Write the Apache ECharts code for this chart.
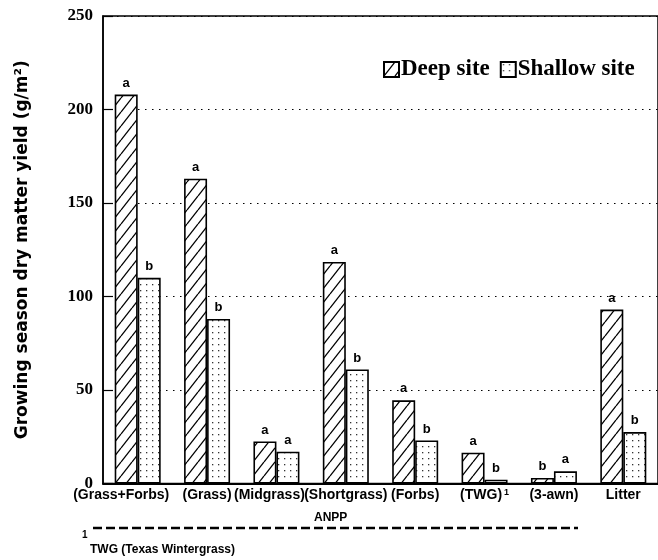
<!DOCTYPE html>
<html>
<head>
<meta charset="utf-8">
<script src="https://cdn.jsdelivr.net/npm/echarts@6/dist/echarts.min.js"></script>
<style>
html,body{margin:0;padding:0;background:#fff;}
#chart{width:658px;height:560px;}
</style>
</head>
<body>
<div id="chart"></div>
<script>
// ---- data ----
var categories = ['(Grass+Forbs)', '(Grass)', '(Midgrass)', '(Shortgrass)', '(Forbs)', '(TWG)', '(3-awn)', 'Litter'];
var deepSite = [208, 163, 22.5, 118.5, 44.5, 16.5, 3, 93];
var shallowSite = [110, 88, 17, 61, 23, 2, 6.5, 27.5];
var deepLetters = ['a', 'a', 'a', 'a', 'a', 'a', 'b', 'a'];
var shallowLetters = ['b', 'b', 'a', 'b', 'b', 'b', 'a', 'b'];
var yTicks = [0, 50, 100, 150, 200, 250];
var seriesNames = ['Deep site', 'Shallow site'];

// ---- patterns ----
function hatchPattern() {
  var w = 11, h = 14;
  var c = document.createElement('canvas');
  c.width = w; c.height = h;
  var ctx = c.getContext('2d');
  ctx.fillStyle = '#fff';
  ctx.fillRect(0, 0, w, h);
  ctx.strokeStyle = '#000';
  ctx.lineWidth = 1.3;
  for (var k = -1; k <= 1; k++) {
    ctx.beginPath();
    ctx.moveTo(k * w, h);
    ctx.lineTo(k * w + w, 0);
    ctx.stroke();
  }
  return c;
}
function dotPattern() {
  var s = 6;
  var c = document.createElement('canvas');
  c.width = s; c.height = s;
  var ctx = c.getContext('2d');
  ctx.fillStyle = '#fff';
  ctx.fillRect(0, 0, s, s);
  ctx.fillStyle = '#333';
  ctx.fillRect(2, 2, 1.3, 1.3);
  return c;
}

var chart = echarts.init(document.getElementById('chart'), null, {renderer: 'canvas'});

var SANS = 'Liberation Sans, Arial, sans-serif';
var SERIF = 'Liberation Serif, Times New Roman, serif';

var letterLabel = function (letters) {
  return {
    show: true,
    position: 'top',
    distance: 5,
    fontFamily: SANS,
    fontWeight: 'bold',
    fontSize: 13,
    color: '#000',
    formatter: function (p) { return letters[p.dataIndex]; }
  };
};

function richStyle(extra) {
  var s = {fontFamily: SANS, fontWeight: 'bold', fontSize: 14, color: '#000'};
  for (var k in extra) s[k] = extra[k];
  return s;
}

var option = {
  backgroundColor: '#fff',
  animation: false,
  grid: {
    left: 103, top: 16, width: 555, bottom: 76.5,
    show: true, borderColor: '#000', borderWidth: 1.5, backgroundColor: 'transparent'
  },
  legend: {
    data: seriesNames,
    left: 378, top: 53,
    itemWidth: 15, itemHeight: 15, itemGap: 10,
    icon: 'rect',
    textStyle: {fontFamily: SERIF, fontWeight: 'bold', fontSize: 23, color: '#000', padding: [0, 0, 0, -3]}
  },
  xAxis: {
    type: 'category',
    data: categories,
    axisLine: {lineStyle: {color: '#000', width: 2}},
    axisTick: {show: false},
    axisLabel: {
      interval: 0,
      margin: 5,
      color: '#000',
      fontFamily: SANS,
      fontWeight: 'bold',
      fontSize: 14,
      formatter: function (v, i) {
        if (i === 0) return '{g|' + v + '}';
        if (i === 2) return '{m|' + v + '}';
        if (v === '(TWG)') return '{n|' + v + '}{sup|1}';
        return v;
      },
      rich: {
        g: richStyle({padding: [0, 33, 0, 0]}),
        m: richStyle({padding: [0, 14, 0, 0]}),
        n: richStyle({}),
        sup: richStyle({fontSize: 9, verticalAlign: 'top', padding: [0, 0, 0, 2]})
      }
    }
  },
  yAxis: {
    type: 'value',
    min: yTicks[0], max: yTicks[yTicks.length - 1], interval: 50,
    name: 'Growing season dry matter yield (g/m²)',
    nameLocation: 'middle',
    nameGap: 72,
    nameTextStyle: {fontFamily: 'DejaVu Sans, Arial, sans-serif', fontWeight: 'bold', fontSize: 17, color: '#000'},
    axisLine: {show: true, lineStyle: {color: '#000', width: 1.5}},
    axisTick: {show: true, inside: true, length: 10, lineStyle: {color: '#000', width: 1.2}},
    axisLabel: {margin: 10, color: '#000', fontFamily: SERIF, fontWeight: 'bold', fontSize: 17},
    splitLine: {show: true, lineStyle: {color: '#000', width: 1.2, type: [1.5, 5.5]}}
  },
  series: [
    {
      name: seriesNames[0],
      type: 'bar',
      data: deepSite,
      barWidth: 23,
      barGap: '0%',
      itemStyle: {color: {image: hatchPattern(), repeat: 'repeat'}, borderColor: '#000', borderWidth: 1.6},
      label: letterLabel(deepLetters),
      emphasis: {disabled: true}
    },
    {
      name: seriesNames[1],
      type: 'bar',
      data: shallowSite,
      barWidth: 23,
      barGap: '0%',
      itemStyle: {color: {image: dotPattern(), repeat: 'repeat'}, borderColor: '#000', borderWidth: 1.6},
      label: letterLabel(shallowLetters),
      emphasis: {disabled: true}
    }
  ],
  graphic: [
    {type: 'text', left: 314, top: 512, style: {text: 'ANPP', fontFamily: SANS, fontWeight: 'bold', fontSize: 12, fill: '#000'}},
    {type: 'line', shape: {x1: 93, y1: 528, x2: 578, y2: 528}, style: {stroke: '#000', lineWidth: 2.5, lineDash: [9, 4]}},
    {type: 'text', left: 82, top: 530, style: {text: '1', fontFamily: SANS, fontWeight: 'bold', fontSize: 10, fill: '#000'}},
    {type: 'text', left: 90, top: 544, style: {text: 'TWG (Texas Wintergrass)', fontFamily: SANS, fontWeight: 'bold', fontSize: 12, fill: '#000'}}
  ]
};
chart.setOption(option);
</script>
</body>
</html>
